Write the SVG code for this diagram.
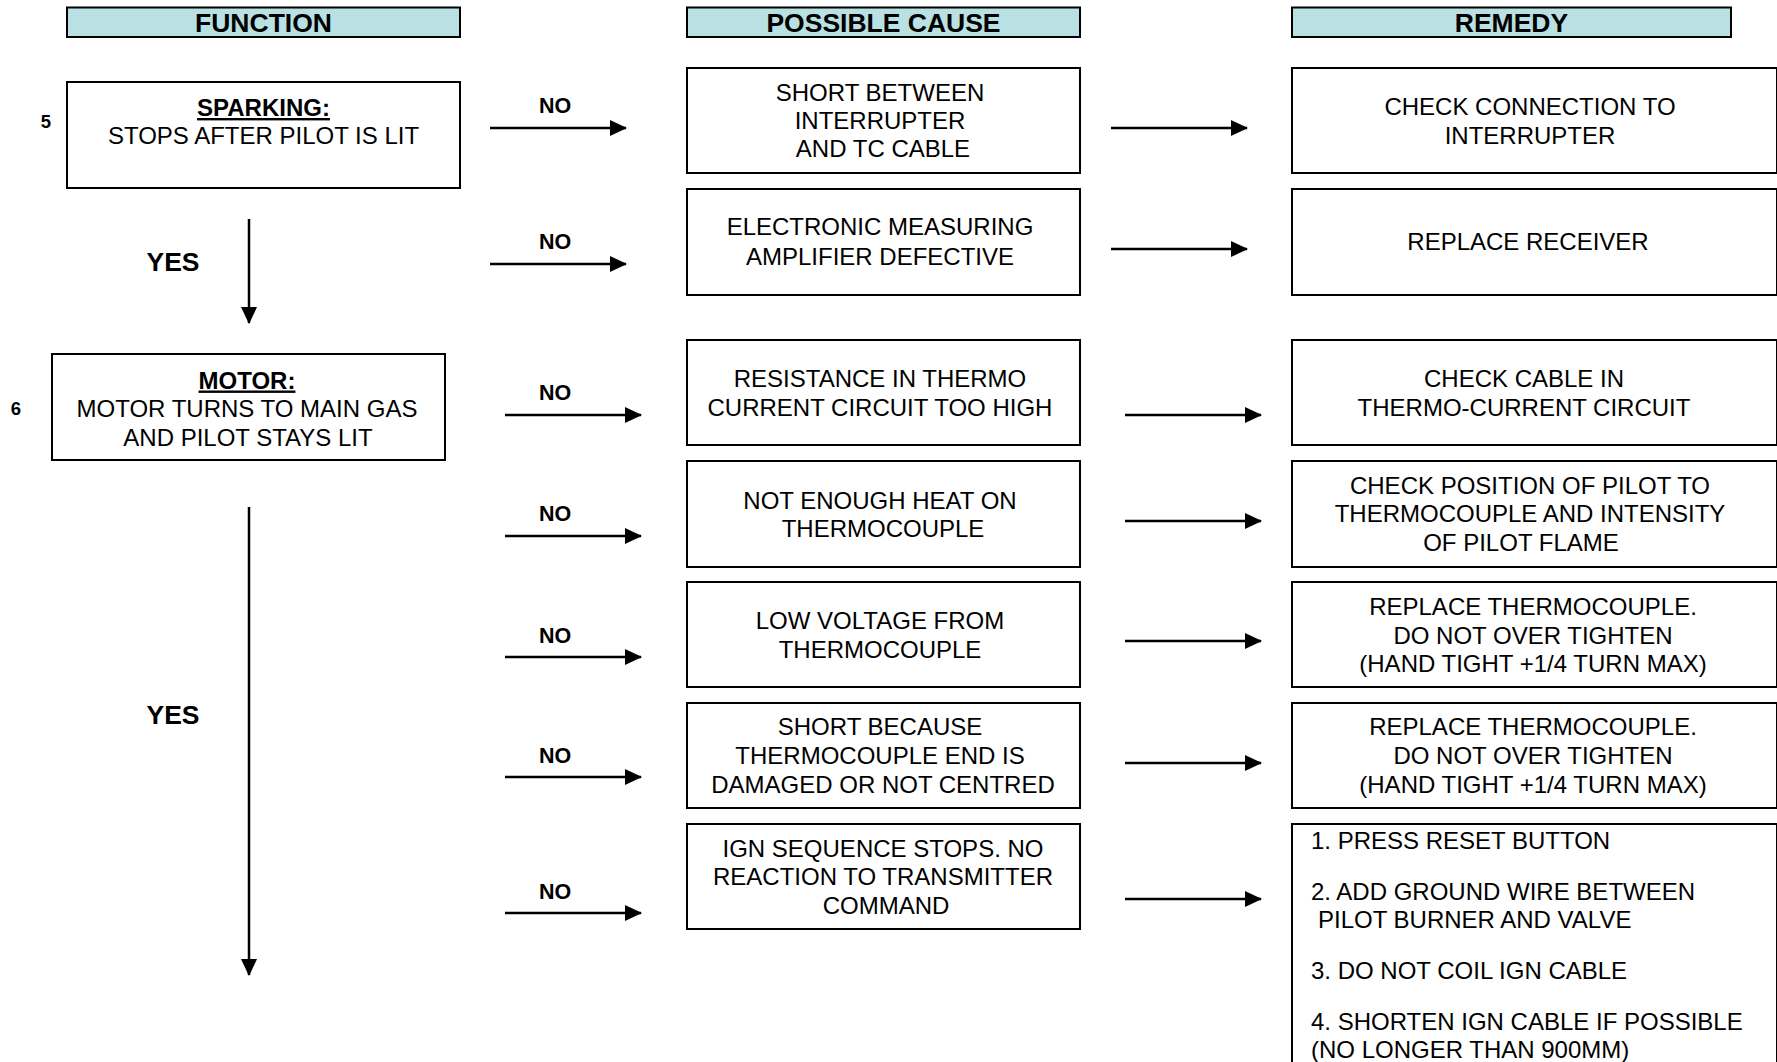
<svg xmlns="http://www.w3.org/2000/svg" width="1777" height="1062" viewBox="0 0 1777 1062">
<style>
.box{fill:#fff;stroke:#000;stroke-width:2}
.hdr{fill:#b9e0e2;stroke:#000;stroke-width:2}
.t{font-family:"Liberation Sans",Arial,sans-serif;font-size:24px;fill:#000}
.c{text-anchor:middle}
.b{font-weight:bold}
.h{font-family:"Liberation Sans",Arial,sans-serif;font-size:26.5px;font-weight:bold;text-anchor:middle}
.no{font-family:"Liberation Sans",Arial,sans-serif;font-size:21.5px;font-weight:bold;text-anchor:middle}
.yes{font-family:"Liberation Sans",Arial,sans-serif;font-size:26.5px;font-weight:bold;text-anchor:middle}
.num{font-family:"Liberation Sans",Arial,sans-serif;font-size:18.5px;font-weight:bold;text-anchor:middle}
.ln{stroke:#000;stroke-width:2.5;fill:none;marker-end:url(#ah)}
</style>
<defs>
<marker id="ah" markerWidth="7" markerHeight="7" refX="6.6" refY="3.3" orient="auto" markerUnits="strokeWidth">
<path d="M0,0 L7,3.3 L0,6.6 Z" fill="#000"/>
</marker>
</defs>
<rect width="1777" height="1062" fill="#fff"/>

<g id="headers">
<g id="h-function"><rect class="hdr" x="67" y="7.5" width="393" height="29.5"/><text class="h" x="263.5" y="31.5">FUNCTION</text></g>
<g id="h-cause"><rect class="hdr" x="687" y="7.5" width="393" height="29.5"/><text class="h" x="883.5" y="31.5">POSSIBLE CAUSE</text></g>
<g id="h-remedy"><rect class="hdr" x="1292" y="7.5" width="439" height="29.5"/><text class="h" x="1511.5" y="31.5">REMEDY</text></g>
</g>

<g id="labels">
<text class="num" x="46" y="128">5</text>
<text class="num" x="16" y="415">6</text>
<text class="yes" x="173" y="270.5">YES</text>
<text class="yes" x="173" y="723.5">YES</text>
<text class="no" x="555" y="112.5">NO</text>
<text class="no" x="555" y="248.5">NO</text>
<text class="no" x="555" y="399.5">NO</text>
<text class="no" x="555" y="520.5">NO</text>
<text class="no" x="555" y="642.5">NO</text>
<text class="no" x="555" y="762.5">NO</text>
<text class="no" x="555" y="898.5">NO</text>
</g>

<g id="f-sparking">
<rect class="box" x="67" y="82" width="393" height="106"/>
<text class="t c b" x="263.5" y="116" text-decoration="underline">SPARKING:</text>
<text class="t c" x="263.5" y="144">STOPS AFTER PILOT IS LIT</text>
</g>
<g id="f-motor">
<rect class="box" x="52" y="354" width="393" height="106"/>
<text class="t c b" x="247" y="388.5" text-decoration="underline">MOTOR:</text>
<text class="t c" x="247" y="417">MOTOR TURNS TO MAIN GAS</text>
<text class="t c" x="248" y="445.5">AND PILOT STAYS LIT</text>
</g>

<g id="cause1"><rect class="box" x="687" y="68" width="393" height="105"/>
<text class="t c" x="880" y="100.5">SHORT BETWEEN</text>
<text class="t c" x="880" y="129">INTERRUPTER</text>
<text class="t c" x="883" y="157">AND TC CABLE</text></g>
<g id="cause2"><rect class="box" x="687" y="189" width="393" height="106"/>
<text class="t c" x="880" y="235">ELECTRONIC MEASURING</text>
<text class="t c" x="880" y="264.5">AMPLIFIER DEFECTIVE</text></g>
<g id="cause3"><rect class="box" x="687" y="340" width="393" height="105"/>
<text class="t c" x="880" y="387">RESISTANCE IN THERMO</text>
<text class="t c" x="880" y="415.5">CURRENT CIRCUIT TOO HIGH</text></g>
<g id="cause4"><rect class="box" x="687" y="461" width="393" height="106"/>
<text class="t c" x="880" y="508.5">NOT ENOUGH HEAT ON</text>
<text class="t c" x="883" y="536.5">THERMOCOUPLE</text></g>
<g id="cause5"><rect class="box" x="687" y="582" width="393" height="105"/>
<text class="t c" x="880" y="628.5">LOW VOLTAGE FROM</text>
<text class="t c" x="880" y="657.5">THERMOCOUPLE</text></g>
<g id="cause6"><rect class="box" x="687" y="703" width="393" height="105"/>
<text class="t c" x="880" y="735">SHORT BECAUSE</text>
<text class="t c" x="880" y="763.5">THERMOCOUPLE END IS</text>
<text class="t c" x="883" y="792.5">DAMAGED OR NOT CENTRED</text></g>
<g id="cause7"><rect class="box" x="687" y="824" width="393" height="105"/>
<text class="t c" x="883" y="856.5">IGN SEQUENCE STOPS. NO</text>
<text class="t c" x="883" y="884.5">REACTION TO TRANSMITTER</text>
<text class="t c" x="886" y="914">COMMAND</text></g>

<g id="remedy1"><rect class="box" x="1292" y="68" width="485" height="105"/>
<text class="t c" x="1530" y="115">CHECK CONNECTION TO</text>
<text class="t c" x="1530" y="143.5">INTERRUPTER</text></g>
<g id="remedy2"><rect class="box" x="1292" y="189" width="485" height="106"/>
<text class="t c" x="1528" y="250">REPLACE RECEIVER</text></g>
<g id="remedy3"><rect class="box" x="1292" y="340" width="485" height="105"/>
<text class="t c" x="1524" y="387">CHECK CABLE IN</text>
<text class="t c" x="1524" y="415.5">THERMO-CURRENT CIRCUIT</text></g>
<g id="remedy4"><rect class="box" x="1292" y="461" width="485" height="106"/>
<text class="t c" x="1530" y="493.5">CHECK POSITION OF PILOT TO</text>
<text class="t c" x="1530" y="521.5">THERMOCOUPLE AND INTENSITY</text>
<text class="t c" x="1521" y="550.5">OF PILOT FLAME</text></g>
<g id="remedy5"><rect class="box" x="1292" y="582" width="485" height="105"/>
<text class="t c" x="1533" y="614.5">REPLACE THERMOCOUPLE.</text>
<text class="t c" x="1533" y="643.5">DO NOT OVER TIGHTEN</text>
<text class="t c" x="1533" y="671.5">(HAND TIGHT +1/4 TURN MAX)</text></g>
<g id="remedy6"><rect class="box" x="1292" y="703" width="485" height="105"/>
<text class="t c" x="1533" y="735">REPLACE THERMOCOUPLE.</text>
<text class="t c" x="1533" y="763.5">DO NOT OVER TIGHTEN</text>
<text class="t c" x="1533" y="792.5">(HAND TIGHT +1/4 TURN MAX)</text></g>
<g id="remedy7"><rect class="box" x="1292" y="824" width="485" height="260"/>
<text class="t" x="1311" y="848.5">1. PRESS RESET BUTTON</text>
<text class="t" x="1311" y="899.5">2. ADD GROUND WIRE BETWEEN</text>
<text class="t" x="1318" y="927.5">PILOT BURNER AND VALVE</text>
<text class="t" x="1311" y="978.5">3. DO NOT COIL IGN CABLE</text>
<text class="t" x="1311" y="1029.5">4. SHORTEN IGN CABLE IF POSSIBLE</text>
<text class="t" x="1311" y="1058">(NO LONGER THAN 900MM)</text></g>

<g id="connectors">
<line class="ln" x1="249" y1="219" x2="249" y2="323"/>
<line class="ln" x1="249" y1="507" x2="249" y2="975"/>
<line class="ln" x1="490" y1="128" x2="626" y2="128"/>
<line class="ln" x1="490" y1="264" x2="626" y2="264"/>
<line class="ln" x1="505" y1="415" x2="641" y2="415"/>
<line class="ln" x1="505" y1="536" x2="641" y2="536"/>
<line class="ln" x1="505" y1="657" x2="641" y2="657"/>
<line class="ln" x1="505" y1="777" x2="641" y2="777"/>
<line class="ln" x1="505" y1="913" x2="641" y2="913"/>
<line class="ln" x1="1111" y1="128" x2="1247" y2="128"/>
<line class="ln" x1="1111" y1="249" x2="1247" y2="249"/>
<line class="ln" x1="1125" y1="415" x2="1261" y2="415"/>
<line class="ln" x1="1125" y1="521" x2="1261" y2="521"/>
<line class="ln" x1="1125" y1="641" x2="1261" y2="641"/>
<line class="ln" x1="1125" y1="763" x2="1261" y2="763"/>
<line class="ln" x1="1125" y1="899" x2="1261" y2="899"/>
</g>
</svg>
